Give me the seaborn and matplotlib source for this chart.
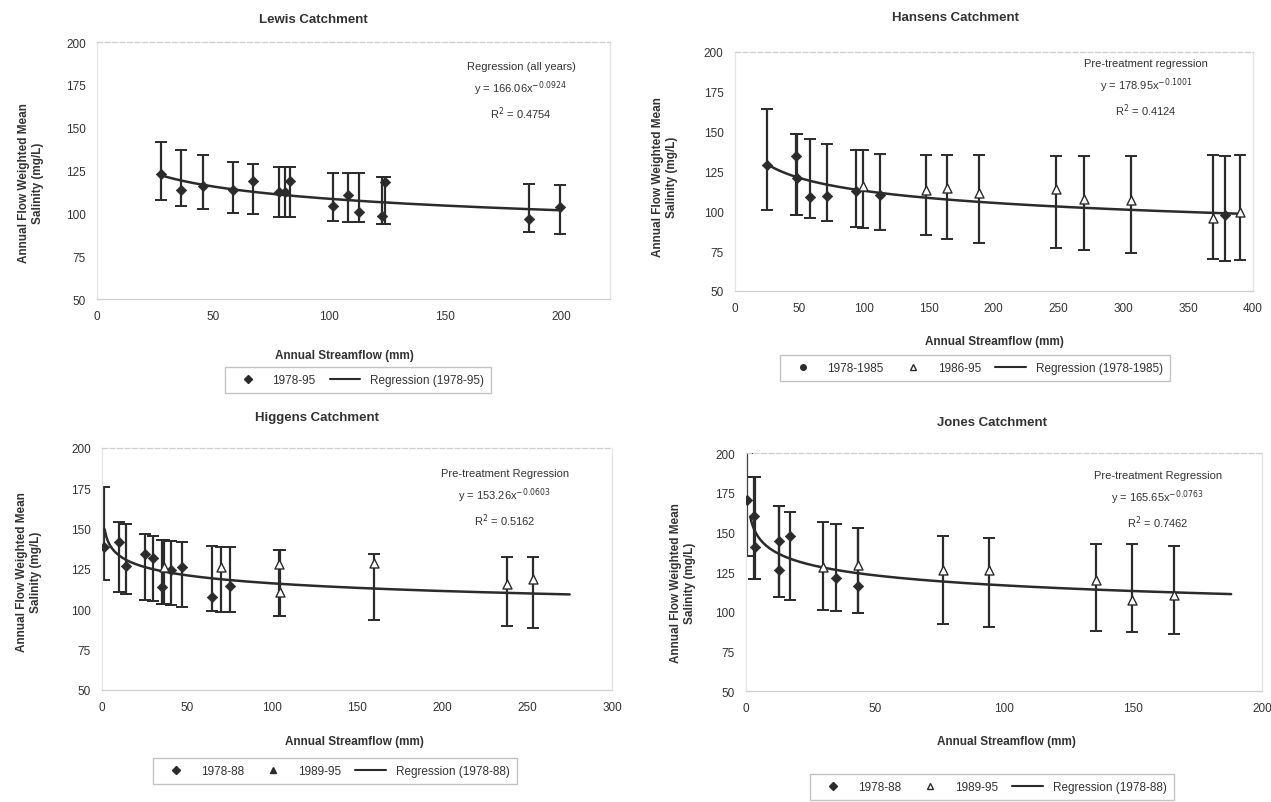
import numpy as np
import pandas as pd
import matplotlib
matplotlib.use("Agg")
import matplotlib.pyplot as plt
from matplotlib.lines import Line2D
import seaborn as sns

sns.set_theme(style="white")
plt.rcParams['font.family'] = ['Liberation Sans', 'DejaVu Sans']

INK = '#2b2b2b'
TXT = '#333333'

# ---- Lewis (all years 1978-95)
lewis_x = [27.4, 36.0, 45.5, 58.8, 67.4, 78.6, 81.0, 83.2, 101.6, 108.0, 113.0, 122.7, 124.1, 186.3, 199.5]
lewis_y = [123.0, 113.6, 116.2, 113.6, 119.1, 112.7, 112.7, 118.7, 104.1, 110.7, 100.6, 98.3, 118.1, 96.6, 103.5]
lewis_lo = [107.8, 104.1, 102.5, 100.2, 99.6, 97.7, 97.7, 97.7, 95.7, 95.1, 95.1, 93.8, 93.8, 89.0, 87.8]
lewis_hi = [141.5, 137.2, 134.0, 130.2, 128.8, 126.9, 126.9, 126.9, 123.5, 123.3, 123.3, 121.0, 121.0, 117.2, 116.6]

# ---- Hansens
hansens_pre_x = [25, 47, 48, 58, 71, 94, 112, 379]
hansens_pre_y = [129.0, 135.0, 121.0, 109.0, 109.5, 113.0, 110.0, 97.5]
hansens_pre_lo = [101.0, 97.5, 97.5, 95.5, 94.0, 90.0, 88.0, 69.0]
hansens_pre_hi = [164.0, 148.5, 148.5, 145.5, 142.0, 138.5, 136.0, 135.0]
hansens_post_x = [99, 148, 164, 189, 248, 270, 306, 369, 390]
hansens_post_y = [116.0, 113.5, 114.5, 111.5, 114.0, 108.0, 107.0, 95.5, 99.5]
hansens_post_lo = [89.5, 85.0, 82.5, 80.0, 77.0, 75.5, 74.0, 70.0, 69.5]
hansens_post_hi = [138.5, 135.5, 135.5, 135.5, 134.5, 134.5, 134.5, 135.5, 135.5]

# ---- Higgens
higgens_pre_x = [1.2, 10.0, 13.8, 25.0, 29.7, 35.2, 40.4, 46.8, 64.9, 75.4]
higgens_pre_y = [138.5, 141.5, 127.0, 134.5, 132.0, 114.0, 124.5, 126.0, 107.5, 114.5]
higgens_pre_lo = [118.0, 111.0, 109.5, 106.0, 105.0, 103.5, 102.5, 101.5, 99.0, 98.5]
higgens_pre_hi = [176.0, 154.0, 153.0, 146.5, 145.5, 143.0, 142.5, 142.0, 139.0, 138.5]
higgens_post_x = [36.5, 70.1, 103.9, 104.5, 159.7, 238.2, 253.6]
higgens_post_y = [126.5, 126.5, 128.0, 110.5, 128.5, 115.5, 119.0]
higgens_post_lo = [103.5, 98.5, 96.0, 96.0, 93.5, 89.5, 88.5]
higgens_post_hi = [143.0, 138.5, 137.0, 137.0, 134.5, 132.5, 132.5]

# ---- Jones
jones_pre_x = [0.5, 3.2, 3.4, 12.7, 12.9, 17.2, 35.0, 43.3]
jones_pre_y = [170.5, 160.5, 141.0, 144.5, 126.0, 148.0, 121.5, 116.5]
jones_pre_lo = [135.0, 120.5, 120.5, 109.5, 109.5, 107.5, 100.5, 99.0]
jones_pre_hi = [200.0, 185.0, 185.0, 166.5, 166.5, 163.0, 155.5, 153.0]
jones_post_x = [30.0, 43.3, 76.5, 94.3, 135.5, 149.5, 166.0]
jones_post_y = [128.0, 129.5, 126.5, 126.0, 120.0, 107.5, 110.5]
jones_post_lo = [101.0, 99.0, 92.5, 90.5, 88.0, 87.5, 86.0]
jones_post_hi = [156.5, 153.0, 148.0, 146.5, 142.5, 142.5, 141.5]

# power trendlines as printed on the chart: y = a * x^b, drawn over [x_from, x_to]
lewis_reg = [166.06, -0.0924, 27.4, 200.0]
hansens_reg = [178.95, -0.1001, 25.0, 390.0]
higgens_reg = [153.26, -0.0603, 1.5, 275.0]
jones_reg = [165.65, -0.0763, 1.6, 188.0]

fig = plt.figure(figsize=(12.71, 8.03), dpi=100)


def errbars(ax, x, y, lo, hi):
    y = np.array(y)
    ax.errorbar(x, y, yerr=[y - np.array(lo), np.array(hi) - y], fmt='none',
                ecolor=INK, elinewidth=1.6, capsize=4, capthick=1.4, zorder=2)


def setup(ax, xmax, xticks):
    ax.set_xlim(0, xmax)
    ax.set_ylim(50, 200)
    ax.set_xticks(xticks)
    ax.set_yticks(range(50, 201, 25))
    ax.tick_params(labelsize=8.5, colors='#bbbbbb', labelcolor=TXT, length=2, pad=6)
    for s in ['left', 'right', 'top', 'bottom']:
        ax.spines[s].set_color('#cfcfcf')
        ax.spines[s].set_linewidth(0.9)
    ax.spines['top'].set_linestyle((0, (4, 2)))
    ax.spines['left'].set_color('#e6e6e6')
    ax.spines['right'].set_color('#e3e3e3')
    ax.set_xlabel('')
    ax.set_ylabel('')


def reg_line(ax, reg):
    a, b, x0, x1 = reg
    xs = np.linspace(x0, x1, 300)
    d = pd.DataFrame({'x': xs, 'y': a * xs ** b})
    sns.lineplot(data=d, x='x', y='y', ax=ax, color=INK, lw=1.8, zorder=3)


def pts(ax, x, y, marker, filled):
    if filled:
        sns.scatterplot(x=x, y=y, ax=ax, marker=marker, s=28, color=INK,
                        edgecolor=INK, linewidth=0.5, zorder=4)
    else:
        sns.scatterplot(x=x, y=y, ax=ax, marker=marker, s=42, facecolor='white',
                        edgecolor=INK, linewidth=1.0, zorder=4)
    ax.set_xlabel('')
    ax.set_ylabel('')


def labels(title, tx, ty, ylx, yly, xlx, xly, note, nx, ny):
    fig.text(tx / 1271, 1 - ty / 803, title, ha='center', va='center',
             fontsize=9.5, fontweight='bold', color=TXT)
    fig.text(ylx / 1271, 1 - yly / 803, 'Annual Flow Weighted Mean\nSalinity (mg/L)',
             rotation=90, ha='center', va='center', fontsize=8.5,
             fontweight='bold', color=TXT, linespacing=1.3)
    fig.text(xlx / 1271, 1 - xly / 803, 'Annual Streamflow (mm)', ha='center',
             va='center', fontsize=8.5, fontweight='bold', color=TXT)
    fig.text(nx / 1271, 1 - ny / 803, note, ha='center', va='top', fontsize=8,
             color=TXT, linespacing=1.55)


def legend(handles, texts, cx, cy):
    fig.legend(handles, texts, loc='center', bbox_to_anchor=(cx / 1271, 1 - cy / 803),
               ncol=len(handles), frameon=True, fancybox=False, edgecolor='#b5b5b5',
               fontsize=8.5, handlelength=2.6, handletextpad=0.8, columnspacing=1.2,
               borderpad=0.6, labelcolor=TXT)


diamond = Line2D([], [], marker='D', ls='none', color=INK, markersize=4)
circle = Line2D([], [], marker='o', ls='none', color=INK, markersize=4)
tri_open = Line2D([], [], marker='^', ls='none', mfc='white', mec=INK, markersize=5)
tri_full = Line2D([], [], marker='^', ls='none', color=INK, markersize=5)
regl = Line2D([], [], color=INK, lw=1.5)

# Lewis
ax1 = fig.add_axes([0.0763, 0.6264, 0.4036, 0.320])
setup(ax1, 221, [0, 50, 100, 150, 200])
errbars(ax1, lewis_x, lewis_y, lewis_lo, lewis_hi)
reg_line(ax1, lewis_reg)
pts(ax1, lewis_x, lewis_y, 'D', True)
labels('Lewis Catchment', 313, 20, 31, 183, 344, 356,
       'Regression (all years)\ny = 166.06x$^{-0.0924}$\nR$^2$ = 0.4754', 521, 62)
legend([diamond, regl], ['1978-95', 'Regression (1978-95)'], 358, 381)

# Hansens
ax2 = fig.add_axes([0.578, 0.6364, 0.4076, 0.2976])
setup(ax2, 400, list(range(0, 401, 50)))
errbars(ax2, hansens_pre_x, hansens_pre_y, hansens_pre_lo, hansens_pre_hi)
errbars(ax2, hansens_post_x, hansens_post_y, hansens_post_lo, hansens_post_hi)
reg_line(ax2, hansens_reg)
pts(ax2, hansens_pre_x, hansens_pre_y, 'D', True)
pts(ax2, hansens_post_x, hansens_post_y, '^', False)
labels('Hansens Catchment', 955, 18, 665, 177, 994, 342,
       'Pre-treatment regression\ny = 178.95x$^{-0.1001}$\nR$^2$ = 0.4124', 1146, 59)
legend([circle, tri_open, regl], ['1978-1985', '1986-95', 'Regression (1978-1985)'], 975, 369)

# Higgens
ax3 = fig.add_axes([0.0803, 0.1395, 0.4013, 0.3014])
setup(ax3, 300, list(range(0, 301, 50)))
errbars(ax3, higgens_pre_x, higgens_pre_y, higgens_pre_lo, higgens_pre_hi)
errbars(ax3, higgens_post_x, higgens_post_y, higgens_post_lo, higgens_post_hi)
reg_line(ax3, higgens_reg)
pts(ax3, higgens_pre_x, higgens_pre_y, 'D', True)
pts(ax3, higgens_post_x, higgens_post_y, '^', False)
labels('Higgens Catchment', 317, 418, 29, 572, 354, 742,
       'Pre-treatment Regression\ny = 153.26x$^{-0.0603}$\nR$^2$ = 0.5162', 505, 469)
legend([diamond, tri_full, regl], ['1978-88', '1989-95', 'Regression (1978-88)'], 335, 772)

# Jones
ax4 = fig.add_axes([0.587, 0.1382, 0.406, 0.2964])
setup(ax4, 200, [0, 50, 100, 150, 200])
errbars(ax4, jones_pre_x, jones_pre_y, jones_pre_lo, jones_pre_hi)
errbars(ax4, jones_post_x, jones_post_y, jones_post_lo, jones_post_hi)
reg_line(ax4, jones_reg)
pts(ax4, jones_pre_x, jones_pre_y, 'D', True)
pts(ax4, jones_post_x, jones_post_y, '^', False)
labels('Jones Catchment', 992, 423, 683, 583, 1006, 742,
       'Pre-treatment Regression\ny = 165.65x$^{-0.0763}$\nR$^2$ = 0.7462', 1158, 471)
legend([diamond, tri_open, regl], ['1978-88', '1989-95', 'Regression (1978-88)'], 992, 788)

fig.savefig('out.png', dpi=100)
